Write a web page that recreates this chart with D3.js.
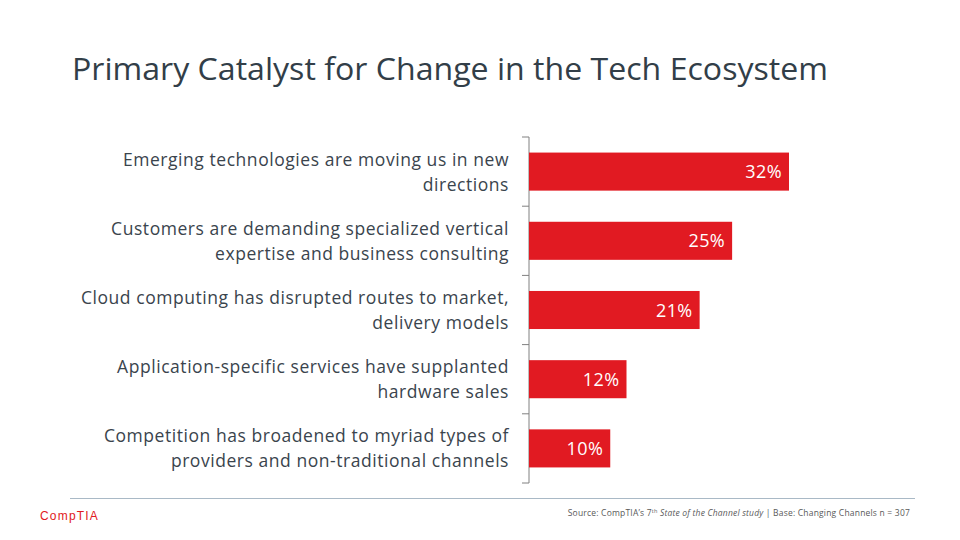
<!DOCTYPE html>
<html><head><meta charset="utf-8">
<script src="https://cdn.jsdelivr.net/npm/d3@7"></script>
<style>body{margin:0;background:#fff}svg{display:block}</style>
</head><body>
<script>
const categories = [
  ["Emerging technologies are moving us in new", "directions"],
  ["Customers are demanding specialized vertical", "expertise and business consulting"],
  ["Cloud computing has disrupted routes to market,", "delivery models"],
  ["Application-specific services have supplanted", "hardware sales"],
  ["Competition has broadened to myriad types of", "providers and non-traditional channels"]
];
const values = [0.32, 0.25, 0.21, 0.12, 0.10];
const title = "Primary Catalyst for Change in the Tech Ecosystem";

const W = 960, H = 540;
const svg = d3.select("body").append("svg").attr("width", W).attr("height", H);
const font = "'Open Sans', 'Noto Sans', sans-serif";

svg.append("text").attr("x", 72).attr("y", 80)
  .attr("font-family", font).attr("font-size", 31).attr("fill", "#323E48")
  .attr("textLength", 756).attr("lengthAdjust", "spacingAndGlyphs")
  .text(title);

const x0 = 529;
const x = d3.scaleLinear().domain([0, 0.32]).range([x0, 789]);
const idx = d3.range(categories.length);
const y = d3.scaleBand().domain(idx).range([137, 483]).paddingInner(0.45).paddingOuter(0.225);

// axis
svg.append("line").attr("x1", x0).attr("x2", x0).attr("y1", 137).attr("y2", 483)
  .attr("stroke", "#808080").attr("stroke-width", 1);
d3.range(categories.length + 1).forEach(i => {
  const yy = 137 + i * (346 / categories.length);
  svg.append("line").attr("x1", x0 - 7).attr("x2", x0).attr("y1", yy).attr("y2", yy)
    .attr("stroke", "#808080").attr("stroke-width", 1);
});

svg.selectAll("rect.bar").data(values).join("rect").attr("class", "bar")
  .attr("x", x0).attr("y", (d, i) => y(i)).attr("height", y.bandwidth())
  .attr("width", d => x(d) - x0).attr("fill", "#E11A22");

svg.selectAll("text.val").data(values).join("text").attr("class", "val")
  .attr("x", d => x(d) - 7).attr("y", (d, i) => y(i) + y.bandwidth() / 2 + 6.5)
  .attr("text-anchor", "end").attr("font-family", font).attr("font-size", 18)
  .attr("fill", "#fff").attr("letter-spacing", 0.4).text(d => Math.round(d * 100) + "%");

const lab = svg.selectAll("text.cat").data(categories).join("text").attr("class", "cat")
  .attr("text-anchor", "end").attr("font-family", font).attr("font-size", 17.5)
  .attr("letter-spacing", 0.55).attr("fill", "#3A444D");
lab.each(function(d, i) {
  const cy = y(i) + y.bandwidth() / 2;
  d3.select(this).selectAll("tspan").data(d).join("tspan")
    .attr("x", 509).attr("y", (t, j) => cy - 6 + j * 25).text(t => t);
});

// footer
svg.append("line").attr("x1", 70).attr("x2", 915).attr("y1", 498.5).attr("y2", 498.5)
  .attr("stroke", "#A9B9C6").attr("stroke-width", 1);
svg.append("text").attr("x", 40).attr("y", 520).attr("font-family", "'Liberation Sans', Arial, sans-serif")
  .attr("font-size", 12).attr("fill", "#E11A22").attr("letter-spacing", 1.2).text("CompTIA");
const src = svg.append("text").attr("x", 910).attr("y", 516).attr("text-anchor", "end")
  .attr("font-family", font).attr("font-size", 8.5).attr("fill", "#595959").attr("letter-spacing", 0.2);
src.append("tspan").text("Source: CompTIA\u2019s 7");
src.append("tspan").attr("font-size", 5.5).attr("dy", -3).text("th");
src.append("tspan").attr("dy", 3).attr("font-style", "italic").text(" State of the Channel study ");
src.append("tspan").text("| Base:  Changing Channels  n = 307");
</script>
</body></html>
